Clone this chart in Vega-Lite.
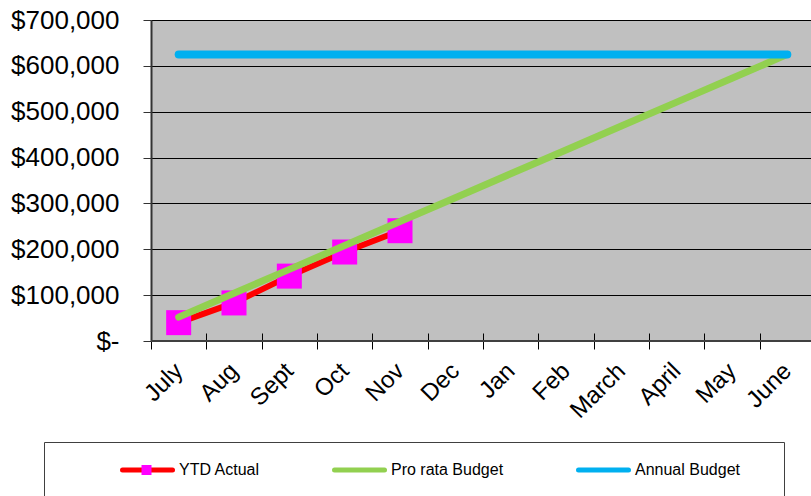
{
  "$schema": "https://vega.github.io/schema/vega-lite/v6.json",
  "width": 660,
  "height": 321,
  "autosize": {"type": "none"},
  "padding": {"left": 151, "top": 20, "right": 0, "bottom": 155},
  "background": "white",
  "config": {
    "font": "Liberation Sans",
    "view": {"fill": "#C0C0C0", "stroke": "#808080", "strokeWidth": 1}
  },
  "data": {
    "values": [
      {"month": "July", "series": "YTD Actual", "value": 40000},
      {"month": "Aug", "series": "YTD Actual", "value": 83000},
      {"month": "Sept", "series": "YTD Actual", "value": 141500},
      {"month": "Oct", "series": "YTD Actual", "value": 194000},
      {"month": "Nov", "series": "YTD Actual", "value": 240500},
      {"month": "July", "series": "Pro rata Budget", "value": 52083},
      {"month": "Aug", "series": "Pro rata Budget", "value": 104167},
      {"month": "Sept", "series": "Pro rata Budget", "value": 156250},
      {"month": "Oct", "series": "Pro rata Budget", "value": 208333},
      {"month": "Nov", "series": "Pro rata Budget", "value": 260417},
      {"month": "Dec", "series": "Pro rata Budget", "value": 312500},
      {"month": "Jan", "series": "Pro rata Budget", "value": 364583},
      {"month": "Feb", "series": "Pro rata Budget", "value": 416667},
      {"month": "March", "series": "Pro rata Budget", "value": 468750},
      {"month": "April", "series": "Pro rata Budget", "value": 520833},
      {"month": "May", "series": "Pro rata Budget", "value": 572917},
      {"month": "June", "series": "Pro rata Budget", "value": 625000},
      {"month": "July", "series": "Annual Budget", "value": 625000},
      {"month": "Aug", "series": "Annual Budget", "value": 625000},
      {"month": "Sept", "series": "Annual Budget", "value": 625000},
      {"month": "Oct", "series": "Annual Budget", "value": 625000},
      {"month": "Nov", "series": "Annual Budget", "value": 625000},
      {"month": "Dec", "series": "Annual Budget", "value": 625000},
      {"month": "Jan", "series": "Annual Budget", "value": 625000},
      {"month": "Feb", "series": "Annual Budget", "value": 625000},
      {"month": "March", "series": "Annual Budget", "value": 625000},
      {"month": "April", "series": "Annual Budget", "value": 625000},
      {"month": "May", "series": "Annual Budget", "value": 625000},
      {"month": "June", "series": "Annual Budget", "value": 625000}
    ]
  },
  "encoding": {
    "x": {
      "field": "month",
      "type": "ordinal",
      "bandPosition": 0.5,
      "sort": ["July", "Aug", "Sept", "Oct", "Nov", "Dec", "Jan", "Feb", "March", "April", "May", "June"],
      "scale": {"type": "band", "paddingInner": 0, "paddingOuter": 0, "range": [0, 664]},
      "axis": {
        "title": null,
        "offset": -8,
        "labelAngle": -45,
        "labelFontSize": 24,
        "labelFont": "Liberation Sans",
        "labelColor": "black",
        "labelAlign": "right",
        "labelBaseline": "middle",
        "labelPadding": 18,
        "tickBand": "extent",
        "tickSize": 16,
        "tickColor": "black",
        "domain": false,
        "grid": false
      }
    },
    "y": {
      "field": "value",
      "type": "quantitative",
      "scale": {"domain": [0, 700000], "nice": false},
      "axis": {
        "title": null,
        "values": [0, 100000, 200000, 300000, 400000, 500000, 600000, 700000],
        "labelExpr": "datum.value == 0 ? '$-' : format(datum.value, '$,')",
        "labelFontSize": 26,
        "labelFont": "Liberation Sans",
        "labelColor": "black",
        "labelPadding": 24,
        "tickSize": 8,
        "tickColor": "#333333",
        "domainColor": "#333333",
        "domainWidth": 2,
        "grid": true,
        "gridColor": "black",
        "gridWidth": 1
      }
    }
  },
  "layer": [
    {
      "mark": {"type": "rule", "color": "#404040", "strokeWidth": 2},
      "encoding": {"y": {"datum": 0}, "x": null}
    },
    {
      "transform": [{"filter": "datum.series == 'YTD Actual'"}],
      "mark": {"type": "line", "strokeWidth": 6, "strokeCap": "round"},
      "encoding": {
        "color": {
          "field": "series",
          "type": "nominal",
          "scale": {"domain": ["YTD Actual", "Pro rata Budget", "Annual Budget"], "range": ["#FF0000", "#92D050", "#00B0F0"]},
          "legend": {
            "orient": "none",
            "legendX": -107,
            "legendY": 422,
            "direction": "horizontal",
            "columns": 3,
            "title": "MM",
            "titleOrient": "right",
            "titleOpacity": 0,
            "titleFontSize": 14,
            "titlePadding": 0,
            "symbolType": "M-5,0H5",
            "symbolSize": 100,
            "symbolStrokeWidth": 5,
            "labelFontSize": 16,
            "labelFont": "Liberation Sans",
            "labelColor": "black",
            "labelOffset": 23.5,
            "labelLimit": 300,
            "columnPadding": 16,
            "padding": 20,
            "strokeColor": "#404040",
            "symbolOffset": 75.5,
            "zindex": 0,
            "encode": {"symbols": {"update": {"strokeCap": {"value": "round"}}}}
          }
        }
      }
    },
    {
      "transform": [{"filter": "datum.series == 'YTD Actual'"}],
      "mark": {"type": "square", "size": 625, "opacity": 1},
      "encoding": {
        "fill": {
          "datum": "YTD Actual",
          "scale": {"domain": ["YTD Actual"], "range": ["#FF00FF"]},
          "legend": {
            "orient": "none",
            "legendX": -9.5,
            "legendY": 445,
            "title": null,
            "symbolType": "square",
            "symbolSize": 100,
            "symbolStrokeWidth": 0,
            "labelExpr": "''",
            "padding": 0,
            "zindex": 1
          }
        }
      }
    },
    {
      "transform": [{"filter": "datum.series == 'Pro rata Budget'"}],
      "mark": {"type": "line", "strokeWidth": 7, "strokeCap": "round"},
      "encoding": {
        "color": {"field": "series", "type": "nominal"}
      }
    },
    {
      "transform": [{"filter": "datum.series == 'Annual Budget'"}],
      "mark": {"type": "line", "strokeWidth": 8, "strokeCap": "round"},
      "encoding": {
        "color": {"field": "series", "type": "nominal"}
      }
    }
  ]
}
